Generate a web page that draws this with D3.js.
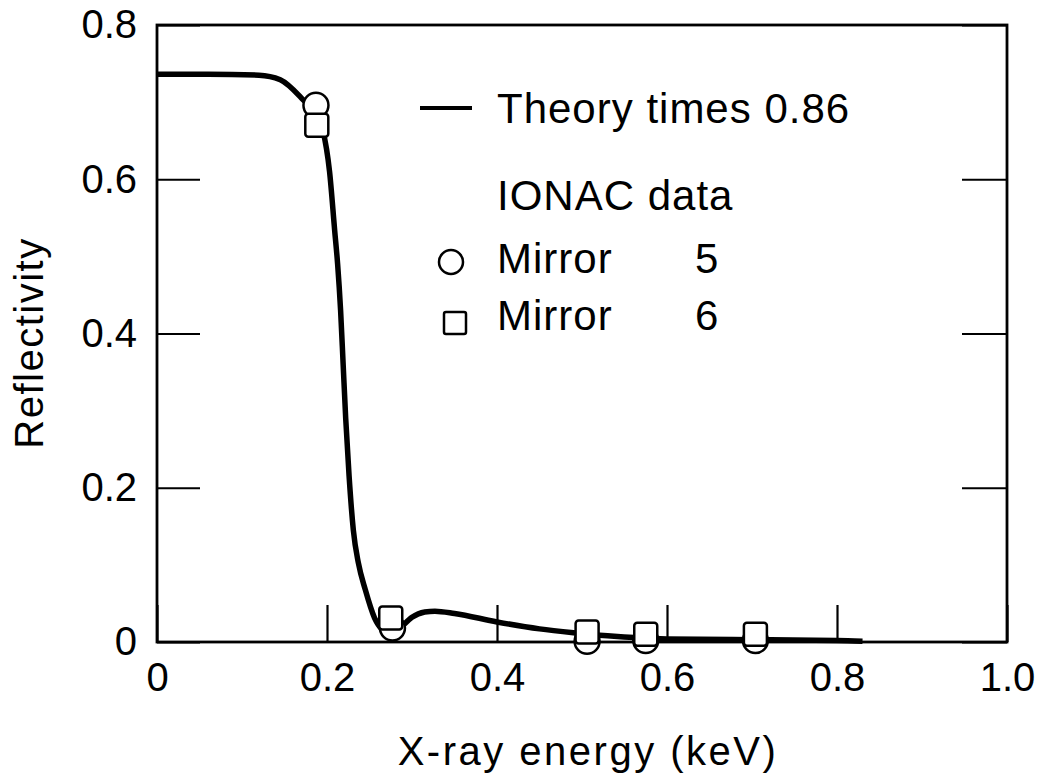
<!DOCTYPE html>
<html>
<head>
<meta charset="utf-8">
<script src="https://cdn.jsdelivr.net/npm/d3@7"></script>
<style>
  body { margin: 0; background: #fff; }
  svg { display: block; }
  text { font-family: "Liberation Sans", Arial, sans-serif; fill: #000; }
  .tick line { stroke: #000; stroke-width: 2.2; }
  .tick text { font-size: 40px; }
</style>
</head>
<body>
<script>
// theory curve (reflectivity x 0.86) vs energy in keV
var theoryEnergy = [0, 0.06, 0.12, 0.145, 0.172, 0.185, 0.195, 0.203, 0.209, 0.2125, 0.216, 0.219,
    0.222, 0.226, 0.231, 0.237, 0.245, 0.256, 0.265, 0.278, 0.289, 0.30, 0.315, 0.327, 0.35,
    0.40, 0.45, 0.49, 0.53, 0.60, 0.70, 0.80, 0.83];
var theoryRefl = [0.736, 0.736, 0.735, 0.729, 0.703, 0.687, 0.664, 0.61, 0.534, 0.49, 0.43, 0.36,
    0.29, 0.215, 0.145, 0.102, 0.068, 0.031, 0.016, 0.009, 0.021, 0.032, 0.039, 0.040, 0.037,
    0.026, 0.017, 0.012, 0.008, 0.004, 0.003, 0.002, 0.001];

// IONAC data
var mirror5Energy = [0.187, 0.277, 0.506, 0.575, 0.704];
var mirror5Refl = [0.696, 0.018, 0.001, 0.002, 0.002];
var mirror6Energy = [0.188, 0.275, 0.506, 0.575, 0.704];
var mirror6Refl = [0.670, 0.031, 0.013, 0.010, 0.010];

var xTicks = [0, 0.2, 0.4, 0.6, 0.8, 1.0];
var xTickLabels = ["0", "0.2", "0.4", "0.6", "0.8", "1.0"];
var yTicks = [0, 0.2, 0.4, 0.6, 0.8];
var yTickLabels = ["0", "0.2", "0.4", "0.6", "0.8"];

var width = 1045, height = 773;
var margin = {top: 25, right: 38, bottom: 131, left: 157};
var plotW = width - margin.left - margin.right;
var plotH = height - margin.top - margin.bottom;

var svg = d3.select("body").append("svg")
    .attr("width", width)
    .attr("height", height);

var xScale = d3.scaleLinear().domain([0, 1]).range([0, plotW]);
var yScale = d3.scaleLinear().domain([0, 0.8]).range([plotH, 0]);

var g = svg.append("g")
    .attr("transform", "translate(" + margin.left + "," + margin.top + ")");

// axes with inward ticks
var xAxis = d3.axisBottom(xScale)
    .tickValues(xTicks)
    .tickSize(-37)
    .tickPadding(21)
    .tickFormat(function (d, i) { return xTickLabels[i]; });

var yAxis = d3.axisLeft(yScale)
    .tickValues(yTicks)
    .tickSize(-43)
    .tickPadding(20)
    .tickFormat(function (d, i) { return yTickLabels[i]; });

var yAxisRight = d3.axisRight(yScale)
    .tickValues(yTicks)
    .tickSize(-45)
    .tickFormat("");

g.append("g")
    .attr("transform", "translate(0," + plotH + ")")
    .call(xAxis)
    .call(function (a) { a.select(".domain").remove(); });

g.append("g")
    .call(yAxis)
    .call(function (a) { a.select(".domain").remove(); });

g.append("g")
    .attr("transform", "translate(" + plotW + ",0)")
    .call(yAxisRight)
    .call(function (a) { a.select(".domain").remove(); });

g.selectAll(".tick text").attr("font-family", null).attr("font-size", null);

// frame
g.append("rect")
    .attr("x", 0)
    .attr("y", 0)
    .attr("width", plotW)
    .attr("height", plotH)
    .attr("fill", "none")
    .attr("stroke", "#000")
    .attr("stroke-width", 2.8);

// theory line
var theory = theoryEnergy.map(function (e, i) { return {x: e, y: theoryRefl[i]}; });

var line = d3.line()
    .x(function (d) { return xScale(d.x); })
    .y(function (d) { return yScale(d.y); })
    .curve(d3.curveMonotoneX);

g.append("path")
    .datum(theory)
    .attr("d", line)
    .attr("fill", "none")
    .attr("stroke", "#000")
    .attr("stroke-width", 5.5)
    .attr("stroke-linejoin", "round");

// data points: circles first, squares drawn over them
var m5 = mirror5Energy.map(function (e, i) { return {x: e, y: mirror5Refl[i]}; });
var m6 = mirror6Energy.map(function (e, i) { return {x: e, y: mirror6Refl[i]}; });

g.selectAll(".m5")
    .data(m5)
    .enter().append("circle")
    .attr("class", "m5")
    .attr("cx", function (d) { return xScale(d.x); })
    .attr("cy", function (d) { return yScale(d.y); })
    .attr("r", 12.5)
    .attr("fill", "#fff")
    .attr("stroke", "#000")
    .attr("stroke-width", 2.5);

var sq = 23;
g.selectAll(".m6")
    .data(m6)
    .enter().append("rect")
    .attr("class", "m6")
    .attr("x", function (d) { return xScale(d.x) - sq / 2; })
    .attr("y", function (d) { return yScale(d.y) - sq / 2; })
    .attr("width", sq)
    .attr("height", sq)
    .attr("rx", 3)
    .attr("fill", "#fff")
    .attr("stroke", "#000")
    .attr("stroke-width", 2.5);

// axis titles
svg.append("text")
    .attr("x", 588)
    .attr("y", 765)
    .attr("text-anchor", "middle")
    .attr("font-size", 40)
    .attr("letter-spacing", 2.5)
    .text("X-ray energy (keV)");

svg.append("text")
    .attr("transform", "translate(43,343) rotate(-90)")
    .attr("text-anchor", "middle")
    .attr("font-size", 40)
    .attr("letter-spacing", 1.5)
    .text("Reflectivity");

// legend
var legend = svg.append("g");

legend.append("line")
    .attr("x1", 420).attr("x2", 472)
    .attr("y1", 108).attr("y2", 108)
    .attr("stroke", "#000")
    .attr("stroke-width", 4);

legend.append("text")
    .attr("x", 497).attr("y", 123)
    .attr("font-size", 42)
    .attr("letter-spacing", 1)
    .text("Theory times 0.86");

legend.append("text")
    .attr("x", 497).attr("y", 210)
    .attr("font-size", 42)
    .attr("letter-spacing", 1)
    .text("IONAC data");

legend.append("circle")
    .attr("cx", 451).attr("cy", 262)
    .attr("r", 12)
    .attr("fill", "#fff")
    .attr("stroke", "#000")
    .attr("stroke-width", 2.5);

legend.append("rect")
    .attr("x", 444).attr("y", 312)
    .attr("width", 22).attr("height", 22)
    .attr("rx", 2)
    .attr("fill", "#fff")
    .attr("stroke", "#000")
    .attr("stroke-width", 2.5);

var legendRows = [{label: "Mirror", num: "5", y: 273}, {label: "Mirror", num: "6", y: 330}];

legend.selectAll(".lab")
    .data(legendRows)
    .enter().append("text")
    .attr("class", "lab")
    .attr("x", 497)
    .attr("y", function (d) { return d.y; })
    .attr("font-size", 42)
    .attr("letter-spacing", 1)
    .text(function (d) { return d.label; });

legend.selectAll(".num")
    .data(legendRows)
    .enter().append("text")
    .attr("class", "num")
    .attr("x", 695)
    .attr("y", function (d) { return d.y; })
    .attr("font-size", 42)
    .text(function (d) { return d.num; });
</script>
</body>
</html>
